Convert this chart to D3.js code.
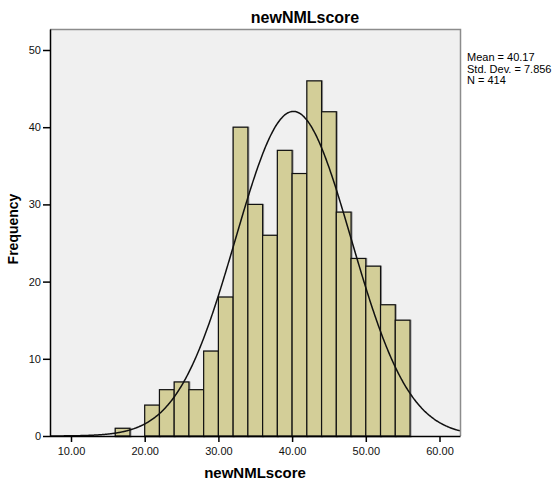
<!DOCTYPE html>
<html>
<head>
<meta charset="utf-8">
<script src="https://cdn.jsdelivr.net/npm/d3@7"></script>
<style>
  html, body { margin: 0; padding: 0; background: #fff; }
  svg { display: block; font-family: Arial, "Liberation Sans", sans-serif; }
</style>
</head>
<body>
<svg id="chart" width="552" height="484"></svg>
<script>
// Histogram bins (lower edges, width 2) and their frequencies
const binStarts = [16, 18, 20, 22, 24, 26, 28, 30, 32, 34, 36, 38, 40, 42, 44, 46, 48, 50, 52, 54];
const binCounts = [1, 0, 4, 6, 7, 6, 11, 18, 40, 30, 26, 37, 34, 46, 42, 29, 23, 22, 17, 15];
const binWidth = 2;

// Summary statistics
const mean = 40.17;
const stdDev = 7.856;
const n = 414;
const statLines = ["Mean = 40.17", "Std. Dev. = 7.856", "N = 414"];

// Axis ticks
const xTicks = [10, 20, 30, 40, 50, 60];
const yTicks = [0, 10, 20, 30, 40, 50];

const svg = d3.select("#chart");
const plot = { left: 50, right: 460.5, top: 29.5, bottom: 436 };

const x = d3.scaleLinear().domain([10, 60]).range([71, 439.5]);
const y = d3.scaleLinear().domain([0, 50]).range([436, 50]);
const xMin = x.invert(plot.left), xMax = x.invert(plot.right);

// Plot background
svg.append("rect")
  .attr("x", plot.left).attr("y", plot.top)
  .attr("width", plot.right - plot.left).attr("height", plot.bottom - plot.top)
  .attr("fill", "#f0f0f0");

// Frame (top and right sides in grey)
svg.append("path")
  .attr("d", `M${plot.left},${plot.top}H${plot.right}V${plot.bottom}`)
  .attr("fill", "none").attr("stroke", "#8c8c8c").attr("stroke-width", 1.5);

const bins = binStarts.map((s, i) => ({ x0: s, x1: s + binWidth, count: binCounts[i] }))
  .filter(d => d.count > 0);

// Soft shadow round each bar
svg.append("g").selectAll("rect")
  .data(bins).join("rect")
  .attr("x", d => x(d.x0) + 0.5)
  .attr("y", d => y(d.count) + 0.5)
  .attr("width", d => x(d.x1) - x(d.x0))
  .attr("height", d => y(0) - y(d.count))
  .attr("fill", "none")
  .attr("stroke", "#9a9a9a").attr("stroke-width", 2);

// Bars
svg.append("g").selectAll("rect")
  .data(bins).join("rect")
  .attr("x", d => x(d.x0))
  .attr("y", d => y(d.count))
  .attr("width", d => x(d.x1) - x(d.x0))
  .attr("height", d => y(0) - y(d.count))
  .attr("fill", "#d3ce98")
  .attr("stroke", "#111").attr("stroke-width", 1.2);

// Normal curve scaled to the histogram
const normal = v => n * binWidth / (stdDev * Math.sqrt(2 * Math.PI)) *
  Math.exp(-0.5 * Math.pow((v - mean) / stdDev, 2));
const curvePts = d3.range(xMin, xMax + 0.001, 0.1).map(v => [v, normal(v)]);
svg.append("path")
  .datum(curvePts)
  .attr("d", d3.line().x(d => x(d[0])).y(d => y(d[1])).curve(d3.curveBasis))
  .attr("fill", "none").attr("stroke", "#111").attr("stroke-width", 1.5);

// Axes
const xAxis = d3.axisBottom(x).tickValues(xTicks).tickFormat(d3.format(".2f"))
  .tickSize(6).tickSizeOuter(0);
const gx = svg.append("g").attr("transform", `translate(0,${plot.bottom})`).call(xAxis);
gx.select(".domain").attr("d", `M${plot.left},0.5H${plot.right}`).attr("stroke", "#000").attr("stroke-width", 1.5);
gx.selectAll(".tick line").attr("stroke", "#000").attr("stroke-width", 1.5);
gx.selectAll(".tick text").attr("font-size", 11).attr("fill", "#111").attr("dy", "0.95em")
  .style("font-family", "Arial, 'Liberation Sans', sans-serif");

const yAxis = d3.axisLeft(y).tickValues(yTicks).tickSize(7).tickSizeOuter(0).tickPadding(2);
const gy = svg.append("g").attr("transform", `translate(${plot.left},0)`).call(yAxis);
gy.select(".domain").attr("d", `M0.5,${plot.top}V${plot.bottom}`).attr("stroke", "#000").attr("stroke-width", 1.5);
gy.selectAll(".tick line").attr("stroke", "#000").attr("stroke-width", 1.5);
gy.selectAll(".tick text").attr("font-size", 11).attr("fill", "#111")
  .style("font-family", "Arial, 'Liberation Sans', sans-serif");

// Title and axis titles
svg.append("text")
  .attr("x", 305).attr("y", 23).attr("text-anchor", "middle")
  .attr("font-size", 16).attr("font-weight", "bold").attr("fill", "#000")
  .text("newNMLscore");
svg.append("text")
  .attr("x", 255).attr("y", 478).attr("text-anchor", "middle")
  .attr("font-size", 15).attr("font-weight", "bold").attr("fill", "#000")
  .text("newNMLscore");
svg.append("text")
  .attr("transform", "translate(18,229) rotate(-90)").attr("text-anchor", "middle")
  .attr("font-size", 14).attr("font-weight", "bold").attr("fill", "#000")
  .text("Frequency");

// Summary statistics
svg.append("g").selectAll("text")
  .data(statLines).join("text")
  .attr("x", 467).attr("y", (d, i) => 61 + i * 11.5)
  .attr("font-size", 11).attr("fill", "#000")
  .text(d => d);
</script>
</body>
</html>
